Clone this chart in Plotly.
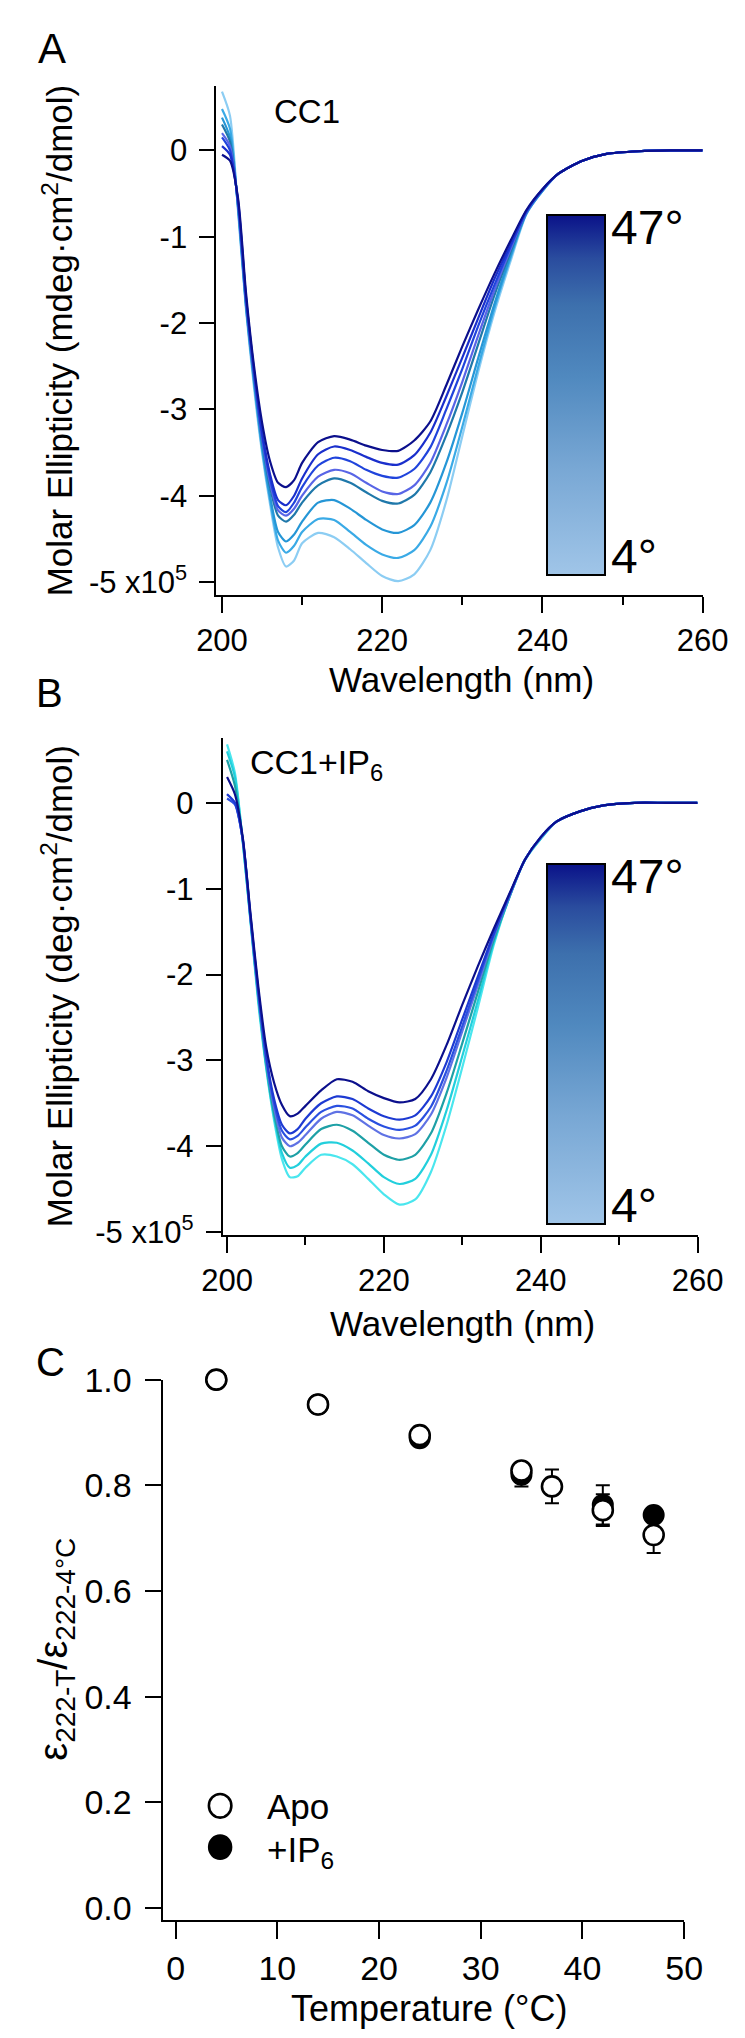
import plotly.graph_objects as go

# ---------------- data ----------------
WAVELENGTH = [200, 201, 202, 203, 204, 205, 206, 207, 208, 209, 210, 212, 214, 216, 218, 220,
              222, 224, 226, 228, 230, 232, 234, 236, 238, 240, 242, 245, 248, 252, 256, 260]

# Panel A (CC1), darkest (47 deg) to lightest (4 deg)
A1 = [-0.05, -0.12, -0.55, -1.65, -2.50, -3.15, -3.60, -3.85, -3.90, -3.82, -3.62, -3.38, -3.31, -3.35, -3.42, -3.47, -3.48, -3.36, -3.14, -2.72, -2.27, -1.84, -1.43, -1.05, -0.69, -0.45, -0.27, -0.12, -0.04, -0.01, 0.00, 0.00]
A2 = [0.05, -0.05, -0.58, -1.70, -2.55, -3.25, -3.75, -4.05, -4.11, -4.00, -3.80, -3.52, -3.43, -3.47, -3.55, -3.62, -3.64, -3.53, -3.27, -2.85, -2.40, -1.94, -1.49, -1.09, -0.70, -0.45, -0.27, -0.12, -0.04, -0.01, 0.00, 0.00]
A3 = [0.15, 0.00, -0.60, -1.72, -2.58, -3.30, -3.80, -4.12, -4.19, -4.08, -3.90, -3.65, -3.56, -3.60, -3.70, -3.77, -3.79, -3.69, -3.44, -3.00, -2.53, -2.03, -1.56, -1.12, -0.71, -0.46, -0.27, -0.12, -0.04, -0.01, 0.00, 0.00]
A4 = [0.20, 0.05, -0.62, -1.75, -2.60, -3.33, -3.85, -4.17, -4.23, -4.15, -4.00, -3.78, -3.70, -3.74, -3.85, -3.95, -3.98, -3.88, -3.62, -3.18, -2.68, -2.14, -1.62, -1.15, -0.72, -0.46, -0.27, -0.12, -0.04, -0.01, 0.00, 0.00]
A5 = [0.30, 0.10, -0.63, -1.77, -2.62, -3.36, -3.90, -4.23, -4.30, -4.22, -4.08, -3.88, -3.80, -3.85, -3.96, -4.06, -4.09, -3.99, -3.73, -3.30, -2.80, -2.24, -1.68, -1.18, -0.72, -0.46, -0.27, -0.12, -0.04, -0.01, 0.00, 0.00]
A6 = [0.38, 0.15, -0.65, -1.80, -2.66, -3.42, -4.00, -4.42, -4.53, -4.45, -4.30, -4.08, -4.05, -4.15, -4.28, -4.39, -4.43, -4.34, -4.08, -3.62, -3.04, -2.40, -1.78, -1.22, -0.73, -0.47, -0.27, -0.12, -0.04, -0.01, 0.00, 0.00]
A7 = [0.48, 0.25, -0.67, -1.82, -2.70, -3.46, -4.05, -4.52, -4.66, -4.58, -4.42, -4.27, -4.28, -4.42, -4.57, -4.68, -4.72, -4.63, -4.36, -3.86, -3.20, -2.50, -1.83, -1.25, -0.73, -0.47, -0.27, -0.12, -0.04, -0.01, 0.00, 0.00]
A8 = [0.68, 0.40, -0.70, -1.85, -2.75, -3.50, -4.10, -4.60, -4.82, -4.75, -4.55, -4.43, -4.48, -4.62, -4.78, -4.93, -4.99, -4.91, -4.63, -4.06, -3.31, -2.56, -1.88, -1.29, -0.74, -0.47, -0.27, -0.12, -0.04, -0.01, 0.00, 0.00]

# Panel B (CC1+IP6), darkest to lightest
B1 = [0.30, 0.10, -0.40, -1.30, -2.15, -2.85, -3.26, -3.52, -3.65, -3.62, -3.53, -3.35, -3.22, -3.25, -3.36, -3.44, -3.49, -3.45, -3.22, -2.82, -2.35, -1.90, -1.47, -1.06, -0.66, -0.40, -0.22, -0.10, -0.03, 0.00, 0.00, 0.00]
B2 = [0.10, 0.00, -0.42, -1.33, -2.20, -2.95, -3.45, -3.75, -3.85, -3.80, -3.68, -3.50, -3.42, -3.45, -3.56, -3.65, -3.69, -3.64, -3.42, -3.02, -2.52, -2.02, -1.52, -1.07, -0.66, -0.40, -0.22, -0.10, -0.03, 0.00, 0.00, 0.00]
B3 = [0.05, -0.02, -0.43, -1.35, -2.22, -2.98, -3.50, -3.82, -3.92, -3.88, -3.78, -3.60, -3.53, -3.56, -3.68, -3.77, -3.81, -3.76, -3.54, -3.12, -2.60, -2.07, -1.54, -1.08, -0.66, -0.40, -0.22, -0.10, -0.03, 0.00, 0.00, 0.00]
B4 = [0.10, 0.00, -0.43, -1.36, -2.25, -3.00, -3.55, -3.90, -4.00, -3.96, -3.87, -3.68, -3.60, -3.64, -3.76, -3.87, -3.91, -3.86, -3.63, -3.20, -2.66, -2.12, -1.56, -1.09, -0.66, -0.41, -0.22, -0.10, -0.03, 0.00, 0.00, 0.00]
B5 = [0.50, 0.20, -0.44, -1.37, -2.28, -3.05, -3.62, -4.00, -4.12, -4.08, -3.98, -3.80, -3.75, -3.82, -3.96, -4.10, -4.16, -4.10, -3.85, -3.38, -2.80, -2.20, -1.60, -1.10, -0.66, -0.41, -0.22, -0.10, -0.03, 0.00, 0.00, 0.00]
B6 = [0.60, 0.30, -0.45, -1.38, -2.30, -3.08, -3.66, -4.08, -4.25, -4.22, -4.12, -3.97, -3.96, -4.05, -4.20, -4.36, -4.44, -4.38, -4.10, -3.58, -2.95, -2.30, -1.63, -1.10, -0.66, -0.42, -0.22, -0.10, -0.03, 0.00, 0.00, 0.00]
B7 = [0.68, 0.35, -0.45, -1.40, -2.35, -3.10, -3.70, -4.15, -4.36, -4.35, -4.25, -4.10, -4.12, -4.21, -4.38, -4.56, -4.68, -4.62, -4.30, -3.75, -3.08, -2.38, -1.66, -1.10, -0.67, -0.42, -0.22, -0.10, -0.03, 0.00, 0.00, 0.00]

COLORS_A = ['#0b0f8c', '#1a2fcc', '#2044dc', '#5865e6', '#1f78aa', '#2596d6', '#3aaae6', '#8ccdf3']
COLORS_B = ['#0b0f8c', '#1d3ad2', '#2a50e0', '#5f72e4', '#1ea0a6', '#22cfdc', '#4ae6ee']

# Panel C
TEMP_APO = [4, 14, 24, 34, 37, 42, 47]
RATIO_APO = [1.000, 0.953, 0.895, 0.828, 0.798, 0.753, 0.706]
ERR_APO = [0.000, 0.005, 0.006, 0.012, 0.032, 0.030, 0.034]
TEMP_IP6 = [4, 14, 24, 34, 42, 47]
RATIO_IP6 = [1.000, 0.953, 0.889, 0.820, 0.763, 0.744]
ERR_IP6 = [0.000, 0.004, 0.005, 0.022, 0.037, 0.010]

TEMP_RANGE = [4, 47]
CB_SCALE = [[0.0, '#a0c5e8'], [0.3, '#78a7d4'], [0.55, '#5089bf'], [0.75, '#3d70ad'],
            [0.88, '#2a4c9e'], [1.0, '#0a1289']]

W, H = 745, 2038
FONT = "Liberation Sans, Arial, sans-serif"


def px(x):
    return x / W


def py(y):
    return 1 - y / H


fig = go.Figure()

# spectra A (light first, dark on top)
for ys, col in reversed(list(zip([A1, A2, A3, A4, A5, A6, A7, A8], COLORS_A))):
    fig.add_trace(go.Scatter(x=WAVELENGTH, y=ys, mode='lines', xaxis='x', yaxis='y',
                             line=dict(color=col, width=2.2, shape='spline', smoothing=0.7),
                             showlegend=False, hoverinfo='skip'))
for ys, col in reversed(list(zip([B1, B2, B3, B4, B5, B6, B7], COLORS_B))):
    fig.add_trace(go.Scatter(x=WAVELENGTH, y=ys, mode='lines', xaxis='x2', yaxis='y2',
                             line=dict(color=col, width=2.2, shape='spline', smoothing=0.7),
                             showlegend=False, hoverinfo='skip'))

# temperature gradient keys
for ax, ya, top in (('x', 'y', 191), ('x2', 'y2', 851.7)):
    fig.add_trace(go.Scatter(
        x=[None], y=[None], mode='markers', xaxis=ax, yaxis=ya, showlegend=False, hoverinfo='skip',
        marker=dict(color=TEMP_RANGE[:1], cmin=TEMP_RANGE[0], cmax=TEMP_RANGE[1], colorscale=CB_SCALE,
                    showscale=True,
                    colorbar=dict(x=px(553), xanchor='left', y=py(top), yanchor='top',
                                  len=360, lenmode='pixels', thickness=58, thicknessmode='pixels',
                                  outlinewidth=2, outlinecolor='black', xpad=0, ypad=0,
                                  showticklabels=False, ticks='', borderwidth=0))))

# panel C
fig.add_trace(go.Scatter(x=TEMP_IP6, y=RATIO_IP6, mode='markers', xaxis='x3', yaxis='y3',
                         name='+IP6', cliponaxis=False, showlegend=False,
                         marker=dict(symbol='circle', size=20, color='black', line=dict(color='black', width=2)),
                         error_y=dict(type='data', array=ERR_IP6, color='black', thickness=2, width=7)))
fig.add_trace(go.Scatter(x=TEMP_APO, y=RATIO_APO, mode='markers', xaxis='x3', yaxis='y3',
                         name='Apo', cliponaxis=False, showlegend=False,
                         marker=dict(symbol='circle', size=20, color='white', line=dict(color='black', width=2.6)),
                         error_y=dict(type='data', array=ERR_APO, color='black', thickness=2, width=7)))

axis_common = dict(showline=True, linecolor='black', linewidth=2, ticks='outside', tickwidth=2,
                   tickcolor='black', showgrid=False, zeroline=False, mirror=False)

spec_x = dict(axis_common, tickvals=[200, 220, 240, 260], ticklen=16,
              tickfont=dict(size=31), ticklabelstandoff=1,
              minor=dict(ticks='outside', ticklen=8, tickwidth=2, tickcolor='black', dtick=10, tick0=200))
spec_y = dict(axis_common, tickvals=[0, -1, -2, -3, -4, -5],
              ticktext=['0', '-1', '-2', '-3', '-4', '-5 x10<sup>5</sup>'], ticklen=15,
              tickfont=dict(size=31), ticklabelstandoff=6)

fig.update_layout(
    width=W, height=H, margin=dict(l=0, r=0, t=0, b=0),
    paper_bgcolor='white', plot_bgcolor='white',
    font=dict(family=FONT, color='black'),
    xaxis=dict(spec_x, domain=[px(200), px(719)], range=[199.3, 260], anchor='y'),
    yaxis=dict(spec_y, domain=[py(577.3), py(60)], range=[-5.146, 0.746], anchor='x'),
    xaxis2=dict(spec_x, domain=[px(206.7), px(713.6)], range=[199.44, 260], anchor='y2'),
    yaxis2=dict(spec_y, domain=[py(1228.3), py(722.7)], range=[-5.032, 0.759], anchor='x2'),
    xaxis3=dict(axis_common, domain=[px(142.5), px(699.3)], range=[-1.29, 50], anchor='y3',
                tickvals=[0, 10, 20, 30, 40, 50], ticklen=17, tickfont=dict(size=34), ticklabelstandoff=1),
    yaxis3=dict(axis_common, domain=[py(1924.8), py(1375.6)], range=[-0.022, 1.0], anchor='x3',
                tickvals=[0, 0.2, 0.4, 0.6, 0.8, 1.0], ticktext=['0.0', '0.2', '0.4', '0.6', '0.8', '1.0'],
                ticklen=16, tickfont=dict(size=34), ticklabelstandoff=6),
)


def ann(text, x, y, size, xanchor='center', yanchor='middle', angle=0):
    fig.add_annotation(text=text, x=px(x), y=py(y), xref='paper', yref='paper', showarrow=False,
                       xanchor=xanchor, yanchor=yanchor, textangle=angle,
                       font=dict(size=size, family=FONT, color='black'))


ann('A', 25, 22, 42)
ann('B', 22, 677, 40)
ann('C', 23, 1358, 40)
ann('CC1', 297, 86, 33)
ann('CC1+IP<sub>6</sub>', 234, 750, 34, xanchor='left')
ann('Molar Ellipticity (mdeg·cm<sup>2</sup>/dmol)', 31, 318.6, 35, angle=-90)
ann('Molar Ellipticity (deg·cm<sup>2</sup>/dmol)', 30, 975.5, 35, angle=-90)
ann('Wavelength (nm)', 462, 664, 35)
ann('Wavelength (nm)', 463, 1318, 35)
ann('Temperature (°C)', 427, 2015, 36)
ann('ε<sub>222-T</sub>/ε<sub>222-4°C</sub>', 29, 1650, 40, angle=-90)
ann('47°', 619, 204, 48, xanchor='left')
ann('4°', 619, 538, 48, xanchor='left')
ann('47°', 619, 864, 48, xanchor='left')
ann('4°', 619, 1199, 48, xanchor='left')
ann('Apo', 252, 1810, 35, xanchor='left')
ann('+IP<sub>6</sub>', 252, 1856, 35, xanchor='left')

# legend keys (C)
r = 12
fig.add_shape(type='circle', xref='paper', yref='paper', x0=px(204 - r), x1=px(204 + r),
              y0=py(1809 + r), y1=py(1809 - r), line=dict(color='black', width=2.6), fillcolor='white')
fig.add_shape(type='circle', xref='paper', yref='paper', x0=px(204 - r), x1=px(204 + r),
              y0=py(1851 + r), y1=py(1851 - r), line=dict(color='black', width=2), fillcolor='black')

fig.write_html("out.html")
